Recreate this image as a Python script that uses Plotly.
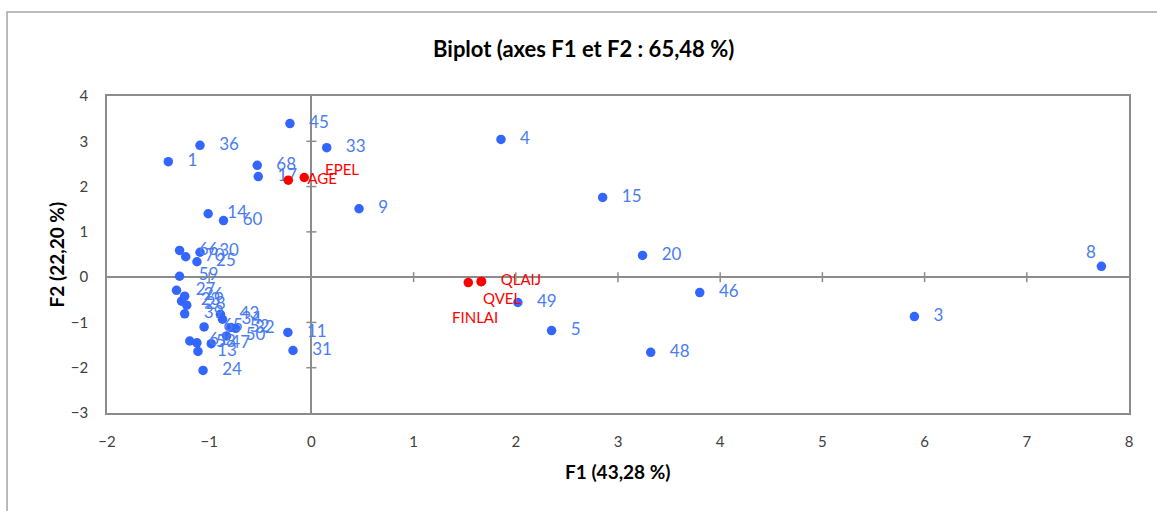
import plotly.graph_objects as go

# ---- data ----
obs_labels = ["1", "36", "45", "68", "17", "33", "4", "9", "15", "14", "60", "20", "8",
              "46", "49", "3", "5", "48", "11", "31", "24", "66", "70", "30", "25", "59",
              "27", "26", "23", "28", "39", "43", "34", "65", "52", "32", "50", "61", "58",
              "13", "47"]
obs_f1 = [-1.40, -1.09, -0.21, -0.53, -0.52, 0.15, 1.855, 0.466, 2.85, -1.01, -0.86, 3.24, 7.73,
          3.80, 2.02, 5.90, 2.35, 3.32, -0.23, -0.18, -1.06, -1.29, -1.23, -1.09, -1.12, -1.29,
          -1.32, -1.24, -1.27, -1.22, -1.24, -0.89, -0.87, -1.05, -0.79, -0.74, -0.83, -1.19, -1.12,
          -1.11, -0.98]
obs_f2 = [2.55, 2.91, 3.39, 2.47, 2.22, 2.86, 3.04, 1.51, 1.76, 1.40, 1.25, 0.48, 0.24,
          -0.34, -0.56, -0.87, -1.18, -1.66, -1.22, -1.62, -2.06, 0.59, 0.45, 0.55, 0.34, 0.02,
          -0.29, -0.42, -0.53, -0.62, -0.81, -0.82, -0.93, -1.10, -1.11, -1.13, -1.30, -1.41, -1.45,
          -1.64, -1.47]

var_labels = ["AGE", "EPEL", "QLAIJ", "QVEL", "FINLAI"]
var_f1 = [-0.226, -0.070, 1.665, 1.66, 1.535]
var_f2 = [2.14, 2.20, -0.095, -0.10, -0.12]

x_ticks = [-2, -1, 0, 1, 2, 3, 4, 5, 6, 7, 8]
y_ticks = [-3, -2, -1, 0, 1, 2, 3, 4]

title_text = "Biplot (axes F1 et F2 : 65,48 %)"
x_title = "F1 (43,28 %)"
y_title = "F2 (22,20 %)"

# ---- styles ----
BLUE = "#3366ff"
BLUE_TXT = "#4a7cf2"
RED = "#ff0000"
GRAY = "#8c8c8c"
FONT = "Lato"

# labels moved by hand in the original (pixel offsets of label relative to point)
label_offsets = {"8": (-10, 15, "center"), "EPEL": (19, 9, "left"),
                 "QVEL": (0, -16, "left"), "FINLAI": (-18, -34, "left")}

fig = go.Figure()

obs_text = ["" if l in label_offsets else l for l in obs_labels]
var_text = ["" if l in label_offsets else l for l in var_labels]

fig.add_trace(go.Scatter(x=obs_f1, y=obs_f2, mode="markers",
                         marker=dict(color=BLUE, size=9.5), hoverinfo="skip"))
fig.add_trace(go.Scatter(x=obs_f1, y=obs_f2, mode="markers+text", text=obs_text,
                         textposition="middle right",
                         textfont=dict(family=FONT, size=17, color=BLUE_TXT),
                         marker=dict(color="rgba(0,0,0,0)", size=29), hoverinfo="skip"))
fig.add_trace(go.Scatter(x=var_f1, y=var_f2, mode="markers",
                         marker=dict(color=RED, size=9.5), hoverinfo="skip"))
fig.add_trace(go.Scatter(x=var_f1, y=var_f2, mode="markers+text", text=var_text,
                         textposition="middle right",
                         textfont=dict(family=FONT, size=15, color=RED),
                         marker=dict(color="rgba(0,0,0,0)", size=29), hoverinfo="skip"))

annotations = []
for labels, xs, ys, col, sz in [(obs_labels, obs_f1, obs_f2, BLUE_TXT, 17),
                                (var_labels, var_f1, var_f2, RED, 15)]:
    for l, xv, yv in zip(labels, xs, ys):
        if l in label_offsets:
            dx, dy, anc = label_offsets[l]
            annotations.append(dict(x=xv, y=yv, xref="x", yref="y", text=l, showarrow=False,
                                    xanchor=anc, yanchor="middle", xshift=dx, yshift=dy,
                                    font=dict(family=FONT, size=sz, color=col)))

annotations += [
    dict(text="<b>" + title_text + "</b>", x=0.4667, y=1.151, xref="paper", yref="paper",
         showarrow=False, xanchor="center", yanchor="middle",
         font=dict(family=FONT, size=22, color="#000000")),
    dict(text="<b>" + x_title + "</b>", x=0.5, y=-0.183, xref="paper", yref="paper",
         showarrow=False, xanchor="center", yanchor="middle",
         font=dict(family=FONT, size=19, color="#000000")),
    dict(text="<b>" + y_title + "</b>", x=-0.049, y=0.5, xref="paper", yref="paper",
         showarrow=False, xanchor="center", yanchor="middle", textangle=-90,
         font=dict(family=FONT, size=19, color="#000000")),
]

shapes = []
# crossing tick marks on the zero lines
for k in x_ticks:
    if k in (x_ticks[0], x_ticks[-1], 0):
        continue
    shapes.append(dict(type="line", xref="x", yref="y", x0=k, x1=k, ysizemode="pixel",
                       yanchor=0, y0=-5, y1=5, line=dict(color=GRAY, width=1.5)))
for k in y_ticks:
    if k in (y_ticks[0], y_ticks[-1], 0):
        continue
    shapes.append(dict(type="line", xref="x", yref="y", y0=k, y1=k, xsizemode="pixel",
                       xanchor=0, x0=-5, x1=5, line=dict(color=GRAY, width=1.5)))
# outer chart-area border (extends past the right and bottom of the picture)
shapes.append(dict(type="rect", xref="paper", yref="paper", x0=-0.0978, x1=1.05,
                   y0=-0.35, y1=1.265, line=dict(color="#a6a6a6", width=1.5),
                   fillcolor="rgba(0,0,0,0)", layer="below"))

axis_common = dict(showgrid=False, showline=True, mirror=True, linecolor=GRAY, linewidth=1.5,
                   zeroline=True, zerolinecolor=GRAY, zerolinewidth=1.5, ticks="",
                   tickfont=dict(family=FONT, size=15, color="#404040"))

fig.update_layout(
    width=1157, height=511,
    margin=dict(l=107, r=28, t=96, b=98),
    paper_bgcolor="white", plot_bgcolor="white",
    showlegend=False,
    xaxis=dict(range=[x_ticks[0], x_ticks[-1]], tickvals=x_ticks, ticklabelstandoff=14,
               **axis_common),
    yaxis=dict(range=[y_ticks[0], y_ticks[-1]], tickvals=y_ticks, ticklabelstandoff=14,
               **axis_common),
    annotations=annotations,
    shapes=shapes,
)

fig.write_html("out.html")
